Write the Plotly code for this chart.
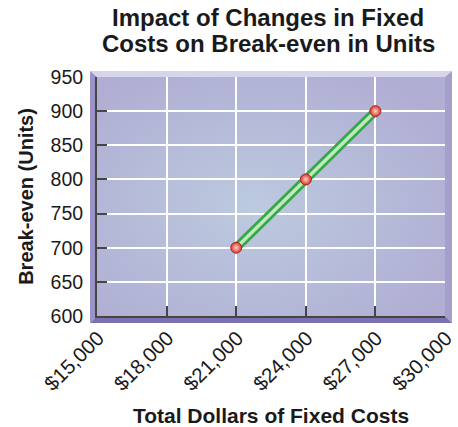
import base64
import plotly.graph_objects as go

# Break-even units for each level of fixed costs
fixed_costs = [21000, 24000, 27000]
break_even_units = [700, 800, 900]

x_ticks = [15000, 18000, 21000, 24000, 27000, 30000]
x_tick_labels = ["$15,000", "$18,000", "$21,000", "$24,000", "$27,000", "$30,000"]
y_ticks = [600, 650, 700, 750, 800, 850, 900, 950]

title_lines = ["Impact of Changes in Fixed", "Costs on Break-even in Units"]

FONT = "Arial, 'Liberation Sans', Helvetica, sans-serif"
TEXT = "#1a1a1a"
LEFT, TOP = 97, 77     # plot-area origin in pixels
W_PX, H_PX = 348, 239  # plot-area size in pixels
D = 7                  # depth of the bevelled frame in pixels


def pt(px, py):
    # pixel offset from the plot area's top-left corner -> paper coords
    return f"{px / W_PX:.5f},{1 - py / H_PX:.5f}"


def poly(points, color):
    path = "M " + " L ".join(pt(*p) for p in points) + " Z"
    return dict(type="path", xref="paper", yref="paper", path=path,
                fillcolor=color, line=dict(width=0), layer="below")


frame = [
    poly([(-D, -6), (W_PX + D, -6), (W_PX, 0), (0, 0)], "#d7d5eb"),
    poly([(-D, -6), (0, 0), (0, H_PX), (-D, H_PX + D)], "#9a93c5"),
    poly([(W_PX + D, -6), (W_PX + D, H_PX + D), (W_PX, H_PX), (W_PX, 0)], "#a59fcc"),
    poly([(0, H_PX), (W_PX, H_PX), (W_PX + D, H_PX + D), (-D, H_PX + D)], "#7b70b0"),
]

# soft radial wash behind the plot area
svg = (
    '<svg xmlns="http://www.w3.org/2000/svg" width="348" height="239">'
    '<defs><radialGradient id="g" cx="45%" cy="55%" r="65%">'
    '<stop offset="0%" stop-color="#bccadf"/>'
    '<stop offset="100%" stop-color="#b0aed3"/>'
    '</radialGradient></defs>'
    '<rect width="348" height="239" fill="url(#g)"/></svg>'
)
bg_uri = "data:image/svg+xml;base64," + base64.b64encode(svg.encode()).decode()

fig = go.Figure()

# tube-like line: dark green body with a pale core
fig.add_trace(go.Scatter(
    x=fixed_costs, y=break_even_units, mode="lines",
    line=dict(color="#33a94a", width=9), hoverinfo="skip", showlegend=False,
))
fig.add_trace(go.Scatter(
    x=fixed_costs, y=break_even_units, mode="lines",
    line=dict(color="#c2e9bb", width=3.5), hoverinfo="skip", showlegend=False,
))
fig.add_trace(go.Scatter(
    x=fixed_costs, y=break_even_units, mode="markers",
    marker=dict(size=11, color="#d8372c",
                gradient=dict(type="radial", color="#fbd0c4"),
                line=dict(color="#a82a20", width=1)),
    showlegend=False,
))

axis_common = dict(
    showline=True, linecolor="#454545", linewidth=2,
    ticks="inside", ticklen=10, tickwidth=2, tickcolor="#454545",
    showgrid=True, gridcolor="#ffffff", gridwidth=1.5,
    zeroline=False, automargin=False,
)

# two-line chart heading, each line placed on its own
heading = []
for text, cy in zip(title_lines, [18, 44]):
    heading.append(dict(
        text=f"<b>{text}</b>", showarrow=False,
        xref="paper", yref="paper",
        x=(268 - LEFT) / W_PX, y=1 + (TOP - cy) / H_PX,
        xanchor="center", yanchor="middle",
        font=dict(family=FONT, size=24, color=TEXT),
    ))

fig.update_layout(
    width=458, height=427,
    margin=dict(l=LEFT, r=13, t=TOP, b=111),
    paper_bgcolor="#ffffff",
    plot_bgcolor="rgba(0,0,0,0)",
    xaxis=dict(
        **axis_common,
        range=[15000, 30000], tickvals=x_ticks, ticktext=x_tick_labels,
        tickangle=-45, ticklabelshift=1, ticklabeloverflow="allow",
        tickfont=dict(family=FONT, size=20.5, color=TEXT),
        title=dict(text="<b>Total Dollars of Fixed Costs</b>", standoff=18,
                   font=dict(family=FONT, size=21, color=TEXT)),
    ),
    yaxis=dict(
        **axis_common,
        range=[600, 950], tickvals=y_ticks,
        ticklabelstandoff=8,
        tickfont=dict(family=FONT, size=19.5, color=TEXT),
        title=dict(text="<b>Break-even (Units)</b>", standoff=12,
                   font=dict(family=FONT, size=20, color=TEXT)),
    ),
    annotations=heading,
    shapes=frame,
    images=[dict(source=bg_uri, xref="paper", yref="paper", x=0, y=1,
                 sizex=1, sizey=1, xanchor="left", yanchor="top",
                 sizing="stretch", layer="below")],
)

fig.write_html("out.html")
